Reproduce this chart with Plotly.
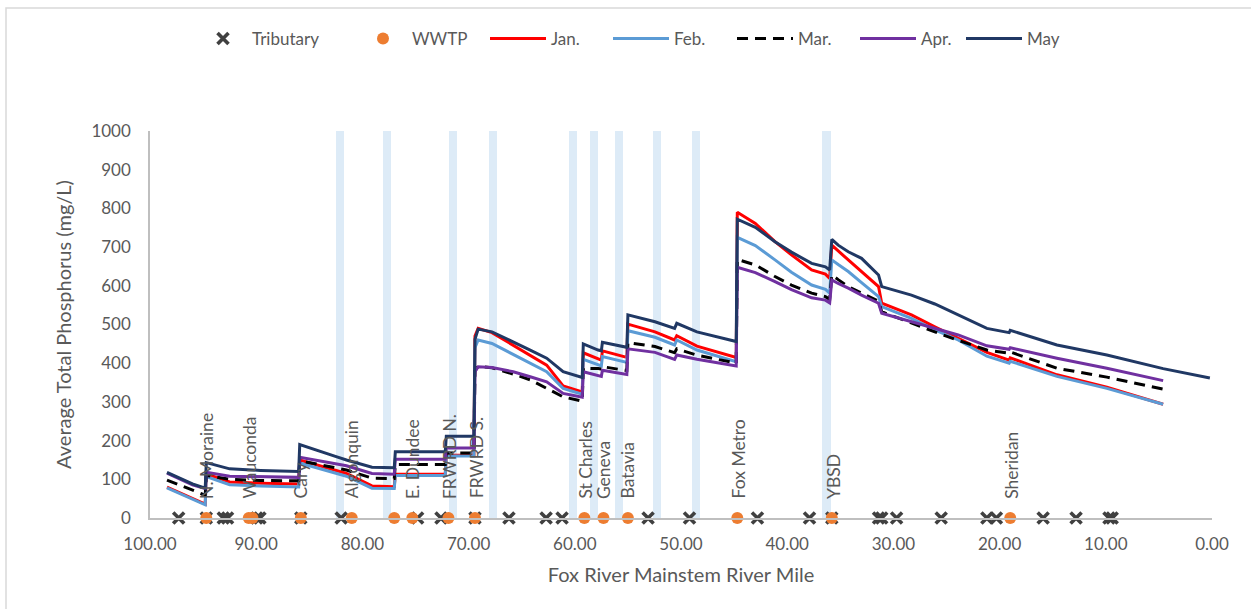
import plotly.graph_objects as go

# River mile of every modelled point (upstream -> downstream)
river_mile = [
    98.4, 96.0, 94.8,
    94.7, 92.5, 89.6, 86.0,
    85.9, 82.4, 81.5, 79.1, 77.0,
    76.9, 72.2,
    72.1, 69.5,
    69.4, 69.1, 67.8, 65.8, 64.2, 62.65, 61.1, 59.3,
    59.2, 57.8, 57.5,
    57.4, 55.4, 55.1,
    55.0, 52.45, 50.6, 50.4, 48.5, 44.8,
    44.7, 43.0, 41.15, 39.6, 37.7, 36.4, 36.0,
    35.8, 35.2, 34.25, 33.0, 31.4, 31.1, 28.3, 26.1, 23.9, 21.2, 19.1,
    19.0, 14.6, 9.9, 4.6, 0.2,
]

# Average total phosphorus by month
jan = [80, 50, 36, 114, 93, 90, 88, 150, 122, 115, 83, 81, 113, 113, 162, 162,
       470, 490, 479, 447, 421, 395, 341, 326, 427, 410, 408, 432, 417, 415,
       501, 481, 460, 471, 444, 415, 790, 761, 714, 680, 641, 630, 619,
       705, 690, 667, 637, 598, 555, 525, 494, 464, 428, 408,
       414, 370, 338, 294, None]
feb = [78, 48, 34, 107, 86, 83, 80, 142, 115, 108, 77, 76, 110, 110, 160, 160,
       440, 460, 451, 423, 400, 378, 335, 320, 410, 395, 393, 417, 404, 402,
       484, 467, 447, 460, 434, 404, 725, 704, 667, 635, 602, 591, 581,
       667, 655, 637, 608, 572, 546, 516, 486, 460, 418, 400,
       405, 366, 335, 294, None]
mar = [98, 72, 59, 110, 100, 97, 96, 148, 130, 124, 103, 102, 138, 138, 168, 168,
       380, 392, 388, 372, 357, 335, 313, 302, 387, 386, 385, 391, 382, 381,
       453, 443, 427, 437, 421, 400, 668, 654, 624, 602, 581, 572, 565,
       628, 616, 598, 581, 560, 533, 503, 481, 459, 434, 426,
       429, 387, 364, 333, None]
apr = [116, 86, 76, 118, 108, 106, 105, 157, 140, 135, 115, 113, 152, 152, 181, 181,
       378, 391, 389, 378, 365, 352, 322, 312, 378, 367, 366, 382, 372, 371,
       437, 428, 410, 421, 410, 393, 648, 634, 611, 590, 569, 563, 556,
       615, 606, 594, 576, 555, 529, 507, 490, 473, 445, 436,
       440, 413, 387, 355, None]
may = [118, 88, 77, 143, 127, 123, 120, 190, 158, 150, 131, 130, 171, 171, 211, 211,
       462, 488, 481, 456, 434, 413, 378, 363, 450, 434, 432, 454, 443, 441,
       525, 507, 490, 503, 481, 456, 772, 751, 714, 687, 658, 649, 641,
       720, 705, 688, 671, 628, 598, 576, 553, 524, 490, 479,
       485, 447, 421, 386, 362]

# Tributary confluences and treatment plant outfalls (river mile)
tributary_mile = [97.3, 94.7, 93.1, 92.7, 89.95, 89.65, 85.8, 82.0, 74.8, 72.6,
                  69.4, 66.2, 62.7, 61.2, 53.1, 49.2, 42.8, 37.9, 35.8, 31.4,
                  31.1, 29.7, 25.5, 21.2, 20.3, 15.9, 12.8, 9.7, 9.4]
wwtp_mile = [94.7, 90.7, 90.35, 85.8, 81.0, 77.0, 75.3, 71.9, 69.4, 59.1, 57.3,
             55.0, 44.7, 35.8, 19.0]

# Labelled plants
plant_names = ["N. Moraine", "Wauconda", "Cary", "Algonquin", "E. Dundee",
               "FRWRD N.", "FRWRD S.", "St Charles", "Geneva", "Batavia",
               "Fox Metro", "YBSD", "Sheridan"]
plant_mile = [94.7, 90.6, 85.8, 81.0, 75.3, 71.85, 69.3, 59.0, 57.3, 55.0,
              44.6, 35.7, 18.95]

# Dam locations (shaded columns)
dam_mile = [82.1, 77.7, 71.45, 67.7, 60.15, 58.2, 55.85, 52.25, 48.6, 36.3]

GRAY = "#595959"
FONT = "Lato"

fig = go.Figure()

fig.add_trace(go.Bar(
    x=dam_mile, y=[1000] * len(dam_mile), width=0.78,
    marker=dict(color="#DDEBF7", line=dict(width=0)),
    showlegend=False, hoverinfo="skip",
))

months = [
    ("Jan.", jan, "#FF0000", "solid"),
    ("Feb.", feb, "#5B9BD5", "solid"),
    ("Mar.", mar, "#000000", "11px,7px"),
    ("Apr.", apr, "#7030A0", "solid"),
    ("May", may, "#203864", "solid"),
]

for i, (name, vals, color, dash) in enumerate(months):
    fig.add_trace(go.Scatter(
        x=river_mile, y=vals, mode="lines", name=name,
        legend=f"legend{i + 3}", connectgaps=False,
        line=dict(color=color, width=3, dash=dash),
    ))

fig.add_trace(go.Scatter(
    x=tributary_mile, y=[0] * len(tributary_mile), mode="markers",
    name="Tributary", cliponaxis=False, legend="legend",
    marker=dict(symbol="x-thin", size=11, color="#404040",
                line=dict(width=3.6, color="#404040")),
))
fig.add_trace(go.Scatter(
    x=wwtp_mile, y=[0] * len(wwtp_mile), mode="markers",
    name="WWTP", cliponaxis=False, legend="legend2",
    marker=dict(symbol="circle", size=12, color="#ED7D31"),
))

for name, m in zip(plant_names, plant_mile):
    fig.add_annotation(
        x=m, y=45, text=name, textangle=-90, showarrow=False,
        xanchor="center", yanchor="bottom",
        font=dict(family=FONT, size=17.5, color=GRAY),
    )

# Chart-area frame
L, R, T, B = 150, 39, 131, 91
PW, PH = 1251 - L - R, 609 - T - B
fig.add_shape(type="rect", xref="paper", yref="paper",
              x0=(6 - L) / PW, x1=(1262 - L) / PW,
              y0=-(B + 10) / PH, y1=(609 - B - 8) / PH,
              line=dict(color="#D9D9D9", width=1.5), fillcolor="rgba(0,0,0,0)")

# One legend per entry, laid out in a single row above the plot
# (text start x, symbol area width)
legend_items = [(252, 48), (412, 48), (551, 56), (674, 56), (798, 56),
                (921, 56), (1027, 56)]
legend_y = (609 - B - 39) / PH
legends = {}
for i, (ts, iw) in enumerate(legend_items):
    key = "legend" if i == 0 else f"legend{i + 1}"
    legends[key] = dict(
        x=(ts - iw - 10 - L) / PW, y=legend_y, xanchor="left", yanchor="middle",
        orientation="h", bgcolor="rgba(0,0,0,0)", borderwidth=0, itemwidth=iw,
        font=dict(family=FONT, size=17, color=GRAY),
    )

fig.update_layout(
    width=1251, height=609,
    margin=dict(l=L, r=R, t=T, b=B),
    paper_bgcolor="white", plot_bgcolor="white",
    barmode="overlay", bargap=0,
    font=dict(family=FONT, size=17, color=GRAY),
    xaxis=dict(
        range=[100, 0], dtick=10, tick0=0, tickformat=".2f",
        showgrid=False, zeroline=False, showline=True,
        linecolor="#BFBFBF", linewidth=1.5, ticks="",
        ticklabelstandoff=10,
        tickfont=dict(family=FONT, size=17, color=GRAY),
        title=dict(text="Fox River Mainstem River Mile", standoff=15,
                   font=dict(family=FONT, size=20, color=GRAY)),
    ),
    yaxis=dict(
        range=[0, 1000], dtick=100, showgrid=False, zeroline=False,
        showline=True, linecolor="#BFBFBF", linewidth=1.5, ticks="",
        ticklabelstandoff=14,
        tickfont=dict(family=FONT, size=17, color=GRAY),
        title=dict(text="Average Total Phosphorus (mg/L)", standoff=14,
                   font=dict(family=FONT, size=20, color=GRAY)),
    ),
    **legends,
)

fig.write_html("out.html")
